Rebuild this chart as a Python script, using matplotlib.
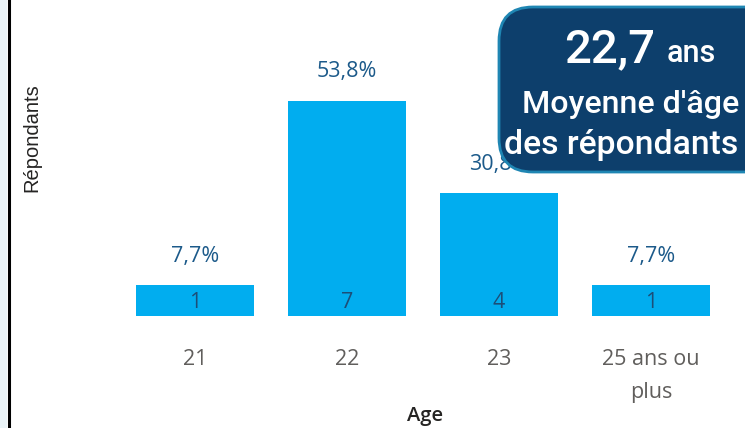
import matplotlib.pyplot as plt
from matplotlib.patches import FancyBboxPatch, Rectangle

# Données
categories = ['21', '22', '23', '25 ans ou\nplus']
repondants = [1, 7, 4, 1]
pourcentages = ['7,7%', '53,8%', '30,8%', '7,7%']
moyenne_age = '22,7'

W, H = 745, 428
plt.rcParams['font.family'] = ['Open Sans', 'DejaVu Sans']
fig = plt.figure(figsize=(W / 100, H / 100), dpi=100)

# Zone des barres (en pixels -> fraction de figure)
px_left, px_right = 119, 727
px_bottom, px_top = 316, 40
ax = fig.add_axes([px_left / W, 1 - px_bottom / H,
                   (px_right - px_left) / W, (px_bottom - px_top) / H])

x = range(len(categories))
ax.bar(x, repondants, width=0.77, color='#01adef', zorder=2)
ax.set_xlim(-0.5, len(categories) - 0.5)
ax.set_ylim(0, (px_bottom - px_top) / 30.7)

for i, (v, p) in enumerate(zip(repondants, pourcentages)):
    ax.annotate(p, (i, v), xytext=(0, 21), textcoords='offset points',
                ha='center', va='center', fontsize=15.5, color='#1c5a8a')
    ax.annotate(str(v), (i, 0), xytext=(0, 10), textcoords='offset points',
                ha='center', va='center', fontsize=15.5, color='#1c4e78')

ax.set_xticks(list(x))
ax.set_xticklabels(categories, fontsize=15.5, color='#605e5c', linespacing=1.75)
ax.tick_params(axis='x', length=0, pad=24)
ax.set_yticks([])
for s in ax.spines.values():
    s.set_visible(False)

# Calque en pixels pour le cadre, la bande et la carte
ov = fig.add_axes([0, 0, 1, 1], zorder=10)
ov.set_xlim(0, W)
ov.set_ylim(H, 0)
ov.axis('off')
ov.patch.set_visible(False)

ov.text(425, 416, 'Age', ha='center', va='center',
        fontsize=14.5, color='#252423', family=['Open Sans', 'DejaVu Sans'], weight='semibold')
ov.text(32, 138, 'Répondants', ha='center', va='center',
        rotation=90, fontsize=14.5, color='#252423', family=['Liberation Sans', 'DejaVu Sans'])

ov.add_patch(Rectangle((0, 0), 7, H, facecolor='#eaf3f7', edgecolor='none'))
ov.plot([8.5, 8.5], [0, H], color='black', lw=2.2)

# Carte moyenne d'âge
ov.add_patch(FancyBboxPatch((499, 7), 290, 165,
                            boxstyle='round,pad=0,rounding_size=34',
                            facecolor='#0d3f6c', edgecolor='#1f86b3', linewidth=2))

fnt = ['Roboto', 'DejaVu Sans']
ov.text(610, 49, moyenne_age, ha='center', va='center',
        fontsize=34, color='white', family=fnt, weight='medium')
ov.text(691, 53, 'ans', ha='center', va='center',
        fontsize=22, color='white', family=fnt, weight='medium')
ov.text(631, 104, "Moyenne d'âge", ha='center', va='center',
        fontsize=23.2, color='white', family=fnt, weight='medium')
ov.text(621, 145, 'des répondants', ha='center', va='center',
        fontsize=24.2, color='white', family=fnt, weight='medium')

fig.savefig('out.png', dpi=100)
